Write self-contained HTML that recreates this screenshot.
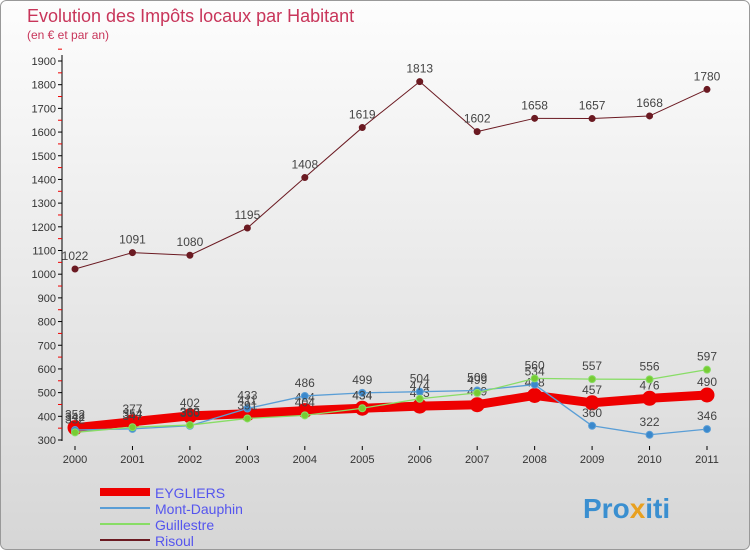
<!DOCTYPE html>
<html><head><meta charset="utf-8"><style>
body{margin:0;width:750px;height:550px;overflow:hidden;font-family:"Liberation Sans",sans-serif}
</style></head><body>
<svg id="c" width="750" height="550" xmlns="http://www.w3.org/2000/svg">
<defs>
<linearGradient id="bg" x1="0" y1="0" x2="0" y2="1"><stop offset="0" stop-color="#fdfdfd"/><stop offset="1" stop-color="#d6d6d6"/></linearGradient>
</defs>
<rect x="0.5" y="0.5" width="749" height="549" rx="6" fill="url(#bg)" stroke="#999"/>
<text x="27" y="22" font-size="18" fill="#c8355a">Evolution des Impôts locaux par Habitant</text>
<text x="27" y="39" font-size="12" fill="#c8355a">(en € et par an)</text>
<g id="axes"></g><g id="series"></g><g id="legend"></g>
<text x="583" y="518" font-size="28" font-weight="bold" fill="#3a8fd0">Pro<tspan fill="#e8a020">x</tspan>iti</text>
</svg>
<script>
const years=[2000,2001,2002,2003,2004,2005,2006,2007,2008,2009,2010,2011];
const yTicks=[300,400,500,600,700,800,900,1000,1100,1200,1300,1400,1500,1600,1700,1800,1900];
const eygliers=[352,377,402,411,424,434,443,449,488,457,476,490];
const montDauphin=[342,347,360,433,486,499,504,509,534,360,322,346];
const guillestre=[332,354,363,391,404,434,474,499,560,557,556,597];
const risoul=[1022,1091,1080,1195,1408,1619,1813,1602,1658,1657,1668,1780];
const NS="http://www.w3.org/2000/svg";
const X=i=>75+i*(707-75)/11;
const Y=v=>440-(v-300)*(440-61)/1600;
function mk(t,a,p){const e=document.createElementNS(NS,t);for(const k in a)e.setAttribute(k,a[k]);(p||document.getElementById('c')).appendChild(e);return e;}
const ax=document.getElementById('axes');
const yl=mk('line',{x1:62,y1:55,x2:62,y2:441,stroke:'#000'},ax);


yTicks.forEach(v=>{
  mk('line',{x1:58,x2:62,y1:Y(v),y2:Y(v),stroke:'#000'},ax);
  mk('line',{x1:58,x2:62,y1:Y(v+50),y2:Y(v+50),stroke:'#e00'},ax);
  const t=mk('text',{x:56,y:Y(v)+4,'font-size':11,'text-anchor':'end',fill:'#333'},ax);
  t.textContent=v;
  
  
});
years.forEach((yr,i)=>{
  mk('line',{x1:X(i),x2:X(i),y1:446,y2:450,stroke:'#000'},ax);
  const t=mk('text',{x:X(i),y:463,'font-size':11,'text-anchor':'middle',fill:'#333'},ax);
  t.textContent=yr;
  
  
});
const sg=document.getElementById('series');
function series(name,data,color,w,r,fill,labels){
  const g=mk('g',{},sg);
  
  
  mk('polyline',{points:data.map((v,i)=>X(i)+','+Y(v)).join(' '),fill:'none',stroke:color,'stroke-width':w,'stroke-linejoin':'round'},g);
  data.forEach((v,i)=>{
    const c=mk('circle',{cx:X(i),cy:Y(v),r:r,fill:fill,stroke:color,'stroke-width':1},g);
    
    
    if(labels){
      const t=mk('text',{x:X(i),y:Y(v)-9,'font-size':12,'text-anchor':'middle',fill:'#444'},g);
      t.textContent=v;
      
      
    }
  });
}
series('risoul',risoul,'#6b1a22',1,3,'#6b1a22',true);
series('eygliers',eygliers,'#ee0000',9,7,'#ee0000',true);
series('mont-dauphin',montDauphin,'#5a9ed6',1.3,3.5,'#3a88cc',true);
series('guillestre',guillestre,'#88dd66',1.3,3.5,'#77cc33',true);
const lg=document.getElementById('legend');
[['EYGLIERS','#ee0000',8],['Mont-Dauphin','#5a9ed6',2],['Guillestre','#88dd66',2],['Risoul','#6b1a22',2]].forEach((d,i)=>{
  const y=492+i*16;
  const l=mk('line',{x1:100,x2:150,y1:y,y2:y,stroke:d[1],'stroke-width':d[2]},lg);
  
  
  const t=mk('text',{x:155,y:y+6,'font-size':14,fill:'#5555ee'},lg);
  t.textContent=d[0];
  
  
});
</script>
</body></html>
